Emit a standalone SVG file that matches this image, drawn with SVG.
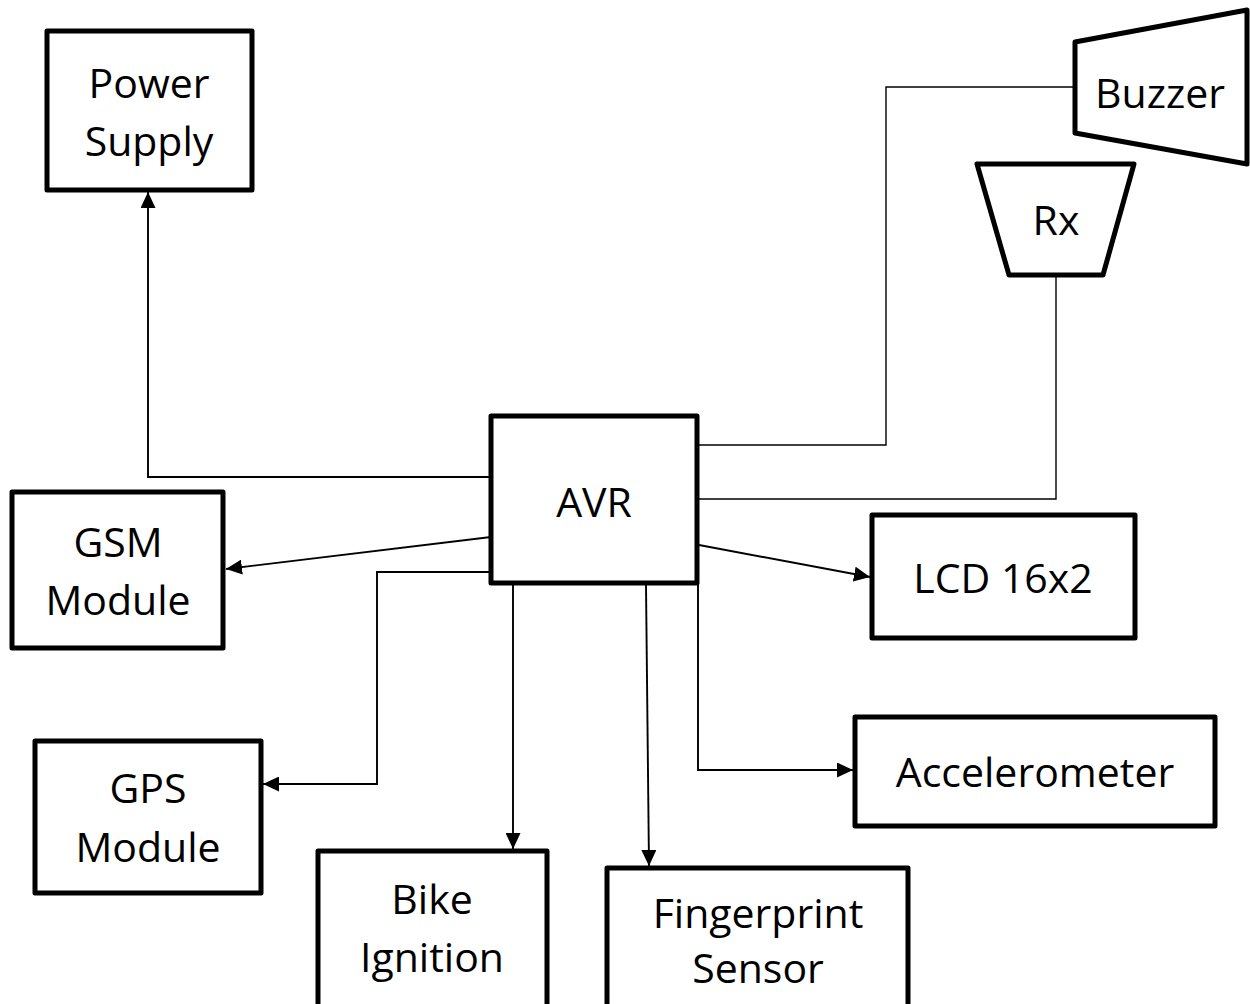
<svg xmlns="http://www.w3.org/2000/svg" width="1250" height="1004" viewBox="0 0 1250 1004">
<defs>
<style>
.box{fill:#fff;stroke:#000;stroke-width:5;stroke-linejoin:round}
.lbl{font-family:"Open Sans","Liberation Sans",sans-serif;font-size:41px;fill:#000;text-anchor:middle}
.wire{fill:none;stroke:#000;stroke-width:1.9}
.thin{fill:none;stroke:#000;stroke-width:1.4}
</style>
<marker id="arr" markerUnits="userSpaceOnUse" markerWidth="17" markerHeight="15" refX="16" refY="7.5" orient="auto">
<path d="M0,0 L16,7.5 L0,15 Z" fill="#000"/>
</marker>
</defs>
<rect width="1250" height="1004" fill="#fff"/>
<g id="connectors">
<polyline class="wire" points="491,477 148,477 148,192" marker-end="url(#arr)"/>
<line class="wire" x1="491" y1="537" x2="226" y2="569" marker-end="url(#arr)"/>
<polyline class="wire" points="491,572 377,572 377,784 263,784" marker-end="url(#arr)"/>
<line class="wire" x1="513" y1="585" x2="513" y2="849" marker-end="url(#arr)"/>
<line class="wire" x1="646" y1="585" x2="649" y2="866" marker-end="url(#arr)"/>
<polyline class="wire" points="698,572 698,770 853,770" marker-end="url(#arr)"/>
<line class="wire" x1="699" y1="545" x2="870" y2="577" marker-end="url(#arr)"/>
<polyline class="thin" points="697,445 886,445 886,87 1075,87"/>
<polyline class="thin" points="697,499 1056,499 1056,277"/>
</g>
<g id="power-supply">
<rect class="box" x="47" y="31" width="205" height="159"/>
<text class="lbl" x="149" y="98">Power</text>
<text class="lbl" x="149" y="156">Supply</text>
</g>
<g id="buzzer">
<polygon class="box" points="1075,42 1247,10 1247,164 1075,133"/>
<text class="lbl" x="1160" y="108">Buzzer</text>
</g>
<g id="rx">
<polygon class="box" points="977,164 1134,164 1103,275 1009,275"/>
<text class="lbl" x="1056" y="235">Rx</text>
</g>
<g id="avr">
<rect class="box" x="491" y="416" width="206" height="167"/>
<text class="lbl" x="594" y="517">AVR</text>
</g>
<g id="gsm-module">
<rect class="box" x="12" y="492" width="211" height="156"/>
<text class="lbl" x="118" y="557">GSM</text>
<text class="lbl" x="118" y="615">Module</text>
</g>
<g id="lcd">
<rect class="box" x="872" y="515" width="263" height="123"/>
<text class="lbl" x="1003" y="593">LCD 16x2</text>
</g>
<g id="gps-module">
<rect class="box" x="35" y="741" width="226" height="152"/>
<text class="lbl" x="148" y="803">GPS</text>
<text class="lbl" x="148" y="862">Module</text>
</g>
<g id="accelerometer">
<rect class="box" x="855" y="717" width="360" height="109"/>
<text class="lbl" x="1035" y="787">Accelerometer</text>
</g>
<g id="bike-ignition">
<rect class="box" x="318" y="851" width="229" height="170"/>
<text class="lbl" x="432" y="914">Bike</text>
<text class="lbl" x="432" y="972">Ignition</text>
</g>
<g id="fingerprint-sensor">
<rect class="box" x="607" y="868" width="301" height="160"/>
<text class="lbl" x="758" y="928">Fingerprint</text>
<text class="lbl" x="758" y="983">Sensor</text>
</g>
</svg>
